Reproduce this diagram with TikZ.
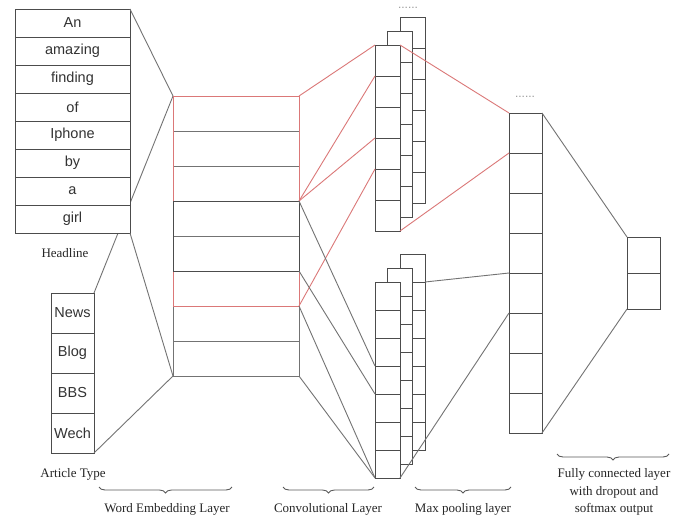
\documentclass[tikz,border=0pt]{standalone}
\usepackage{fontspec}
\setmainfont{Liberation Serif}
\setsansfont{Liberation Sans}
\usetikzlibrary{decorations.pathreplacing}
\newlength{\du}
\setlength{\du}{1pt}
\definecolor{cellline}{rgb}{0.30,0.30,0.30}
\definecolor{wireline}{rgb}{0.45,0.45,0.45}
\definecolor{redline}{rgb}{0.86,0.47,0.47}

\begin{document}
\begin{tikzpicture}[x=1\du, y=-1\du, line width=0.9\du,
  cell/.style={rectangle, draw=cellline, fill=white, inner sep=0pt, outer sep=0pt, font=\sffamily\fontsize{14.5}{14.5}\selectfont, text=black!80},
  word/.style={cell, minimum width=115\du, minimum height=28\du},
  kind/.style={cell, minimum width=43\du, minimum height=40\du},
  embed/.style={cell, draw=wireline, minimum width=126\du, minimum height=35\du},
  conv/.style={cell, minimum width=25\du, minimum height=31\du},
  convlow/.style={cell, minimum width=25\du, minimum height=28\du},
  pool/.style={cell, minimum width=33\du, minimum height=40\du},
  soft/.style={cell, minimum width=33\du, minimum height=36\du},
  wire/.style={draw=wireline},
  redwire/.style={draw=redline},
  label/.style={font=\fontsize{13}{17.5}\selectfont, inner sep=0pt, align=center, text=black!85},
  layerbrace/.style={draw=black!65, decorate, decoration={brace, mirror, amplitude=6\du}},
  dots/.style={font=\sffamily\fontsize{12}{12}\selectfont, text=black!40, inner sep=0pt}]
\useasboundingbox[fill=white] (0,0) rectangle (684,519);

% inputs
\node[kind] (a1) at (72.5,313) {News};
\node[kind] (a2) at (72.5,353) {Blog};
\node[kind] (a3) at (72.5,393) {BBS};
\node[kind] (a4) at (72.5,433) {Wech};
\node[embed] (e1) at (236,113.5) {};
\node[embed] (e2) at (236,148.5) {};
\node[embed] (e3) at (236,183.5) {};
\node[embed] (e4) at (236,218.5) {};
\node[embed] (e5) at (236,253.5) {};
\node[embed] (e6) at (236,288.5) {};
\node[embed] (e7) at (236,323.5) {};
\node[embed] (e8) at (236,358.5) {};
\draw[wire] (a1.north east) -- (e1.north west);
\draw[wire] (a4.south east) -- (e8.south west);
\node[word] (h1) at (72.5,23) {An};
\node[word] (h2) at (72.5,51) {amazing};
\node[word] (h3) at (72.5,79) {finding};
\node[word] (h4) at (72.5,107) {of};
\node[word] (h5) at (72.5,135) {Iphone};
\node[word] (h6) at (72.5,163) {by};
\node[word] (h7) at (72.5,191) {a};
\node[word] (h8) at (72.5,219) {girl};
\draw[wire] (h1.north east) -- (e1.north west);
\draw[wire] (h8.south east) -- (e8.south west);
\draw[redwire] (e1.north west) rectangle (e6.south east);
\draw[cellline] (e4.north west) rectangle (e5.south east);

% convolution, upper stack
\node[conv] (uc1) at (412.5,32.5) {};
\node[conv] (uc2) at (412.5,63.5) {};
\node[conv] (uc3) at (412.5,94.5) {};
\node[conv] (uc4) at (412.5,125.5) {};
\node[conv] (uc5) at (412.5,156.5) {};
\node[conv] (uc6) at (412.5,187.5) {};
\node[conv] (ub1) at (400,46.5) {};
\node[conv] (ub2) at (400,77.5) {};
\node[conv] (ub3) at (400,108.5) {};
\node[conv] (ub4) at (400,139.5) {};
\node[conv] (ub5) at (400,170.5) {};
\node[conv] (ub6) at (400,201.5) {};
\node[conv] (ua1) at (387.5,60.5) {};
\node[conv] (ua2) at (387.5,91.5) {};
\node[conv] (ua3) at (387.5,122.5) {};
\node[conv] (ua4) at (387.5,153.5) {};
\node[conv] (ua5) at (387.5,184.5) {};
\node[conv] (ua6) at (387.5,215.5) {};
\node[dots] (udots) at (408,8) {......};

% convolution, lower stack
\node[convlow] (lc1) at (412.5,268) {};
\node[convlow] (lc2) at (412.5,296) {};
\node[convlow] (lc3) at (412.5,324) {};
\node[convlow] (lc4) at (412.5,352) {};
\node[convlow] (lc5) at (412.5,380) {};
\node[convlow] (lc6) at (412.5,408) {};
\node[convlow] (lc7) at (412.5,436) {};
\node[convlow] (lb1) at (400,282) {};
\node[convlow] (lb2) at (400,310) {};
\node[convlow] (lb3) at (400,338) {};
\node[convlow] (lb4) at (400,366) {};
\node[convlow] (lb5) at (400,394) {};
\node[convlow] (lb6) at (400,422) {};
\node[convlow] (lb7) at (400,450) {};
\node[convlow] (la1) at (387.5,296) {};
\node[convlow] (la2) at (387.5,324) {};
\node[convlow] (la3) at (387.5,352) {};
\node[convlow] (la4) at (387.5,380) {};
\node[convlow] (la5) at (387.5,408) {};
\node[convlow] (la6) at (387.5,436) {};
\node[convlow] (la7) at (387.5,464) {};

\draw[redwire] (e1.north east) -- (ua1.north west);
\draw[redwire] (e4.north east) -- (ua2.north west);
\draw[redwire] (e4.north east) -- (ua4.north west);
\draw[redwire] (e6.south east) -- (ua5.north west);
\draw[wire] (e4.north east) -- (la3.south west);
\draw[wire] (e5.south east) -- (la4.south west);
\draw[wire] (e6.south east) -- (la7.south west);
\draw[wire] (e8.south east) -- (la7.south west);

% pooling and output
\node[pool] (p1) at (525.5,133) {};
\node[pool] (p2) at (525.5,173) {};
\node[pool] (p3) at (525.5,213) {};
\node[pool] (p4) at (525.5,253) {};
\node[pool] (p5) at (525.5,293) {};
\node[pool] (p6) at (525.5,333) {};
\node[pool] (p7) at (525.5,373) {};
\node[pool] (p8) at (525.5,413) {};
\node[dots] (pdots) at (525,97) {......};
\node[soft] (o1) at (643.5,255) {};
\node[soft] (o2) at (643.5,291) {};

\draw[redwire] (ua1.north east) -- (p1.north west);
\draw[redwire] (ua6.south east) -- (p2.north west);
\draw[wire] (lc2.north east) -- (p5.north west);
\draw[wire] (la7.south east) -- (p6.north west);
\draw[wire] (p1.north east) -- (o1.north west);
\draw[wire] (p8.south east) -- (o2.south west);

% labels
\node[label] (headline) at (65,253) {Headline};
\node[label] (articletype) at (73,474) {Article Type};
\draw[layerbrace] (99,487) -- (232,487);
\node[label] (embedlabel) at (167,509) {Word Embedding Layer};
\draw[layerbrace] (283,487) -- (374,487);
\node[label] (convlabel) at (328,509) {Convolutional Layer};
\draw[layerbrace] (415,487) -- (511,487);
\node[label] (poollabel) at (463,509) {Max pooling layer};
\draw[layerbrace] (557,454) -- (669,454);
\node[label] (fclabel) at (614,492) {Fully connected layer\\with dropout and\\softmax output};
\end{tikzpicture}
\end{document}
